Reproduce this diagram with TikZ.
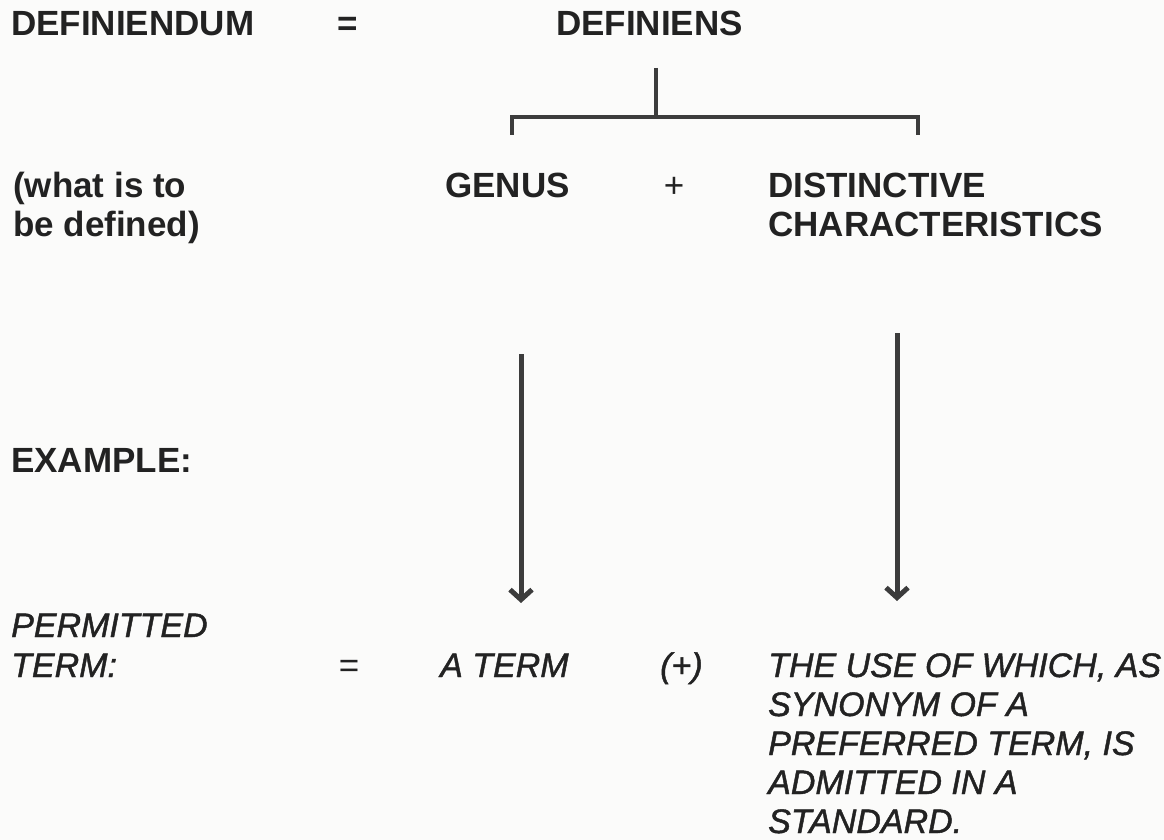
\documentclass[tikz,border=0pt]{standalone}
\usepackage{fontspec}
\setmainfont{Liberation Sans}
\newfontfamily\meditfont{Liberation Sans Italic}[RawFeature={embolden=1.3}]
\usetikzlibrary{arrows.meta}
\definecolor{ink}{HTML}{222222}
\definecolor{pen}{HTML}{3C3C3C}
\definecolor{paper}{HTML}{FBFBFA}
\tikzset{
  bt/.style={font=\fontsize{35}{40}\selectfont\bfseries, text=ink, inner sep=0pt, anchor=base west},
  rt/.style={font=\fontsize{35}{40}\selectfont, text=ink, inner sep=0pt, anchor=base},
  it/.style={font=\fontsize{34}{40}\selectfont\meditfont, text=ink, inner sep=0pt, anchor=base west},
  bracket/.style={draw=pen, line width=4pt},
  arr/.style={draw=pen, line width=5pt, -{Straight Barb[length=10pt,width=22pt]}}
}
\begin{document}
\begin{tikzpicture}[x=1pt,y=-1pt]
\fill[paper] (0,0) rectangle (1164,840);
\useasboundingbox (0,0) rectangle (1164,840);
% top row
\node[bt] (dfd) at (11,36) {DEFINIENDUM};
\node[rt] (eq1) at (348,36) {\bfseries =};
\node[bt] (dfs) at (556,36) {DEFINIENS};
% bracket
\coordinate (stemtop) at (656,68);
\coordinate (stembot) at (656,117);
\coordinate (bl) at (512,135);
\coordinate (br) at (918,135);
\draw[bracket] (stemtop) -- (stembot);
\draw[bracket] (bl) |- (stembot) -| (br);
% second row
\node[bt] (w1) at (13,197) {(what is to};
\node[bt] (w2) at (13,236) {be defined)};
\node[bt] (genus) at (445,197) {GENUS};
\node[rt] (plus) at (674,197) {+};
\node[bt] (dc1) at (768,197) {DISTINCTIVE};
\node[bt] (dc2) at (768,236) {CHARACTERISTICS};
% arrows
\coordinate (a1s) at (521,354);
\coordinate (a1e) at (521,603);
\coordinate (a2s) at (897,333);
\coordinate (a2e) at (897,601);
\draw[arr] (a1s) -- (a1e);
\draw[arr] (a2s) -- (a2e);
% example
\node[bt] (ex) at (11,472) {EXAMPLE:};
\node[it] (p1) at (11,637) {PERMITTED};
\node[it] (p2) at (11,677) {TERM:};
\node[rt] (eq2) at (349,677) {=};
\node[it] (aterm) at (440,677) {A TERM};
\node[it] (pp) at (660,677) {(+)};
\node[it] (t1) at (768,677) {THE USE OF WHICH, AS};
\node[it] (t2) at (768,716) {SYNONYM OF A};
\node[it] (t3) at (768,755) {PREFERRED TERM, IS};
\node[it] (t4) at (768,794) {ADMITTED IN A};
\node[it] (t5) at (768,833) {STANDARD.};
\end{tikzpicture}
\end{document}
